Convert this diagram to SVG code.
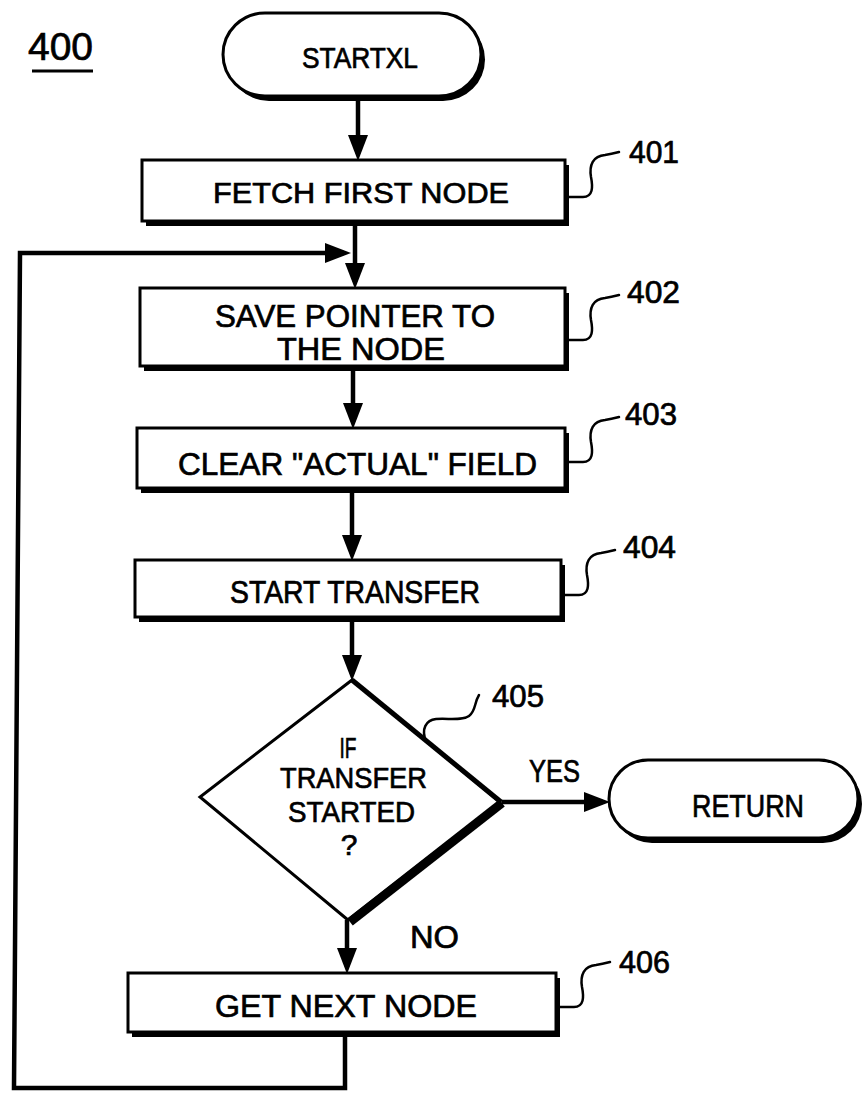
<svg xmlns="http://www.w3.org/2000/svg" width="865" height="1095" viewBox="0 0 865 1095">
<style>
text{font-family:"Liberation Sans",Arial,sans-serif;fill:#000;stroke:#000;stroke-width:0.7}
.c{text-anchor:middle}
.box{fill:#fff;stroke:#000;stroke-width:3}
.sh{fill:#000}
.con{fill:none;stroke:#000;stroke-width:4.5;stroke-linejoin:miter}
.arr{marker-end:url(#ah)}
.lead{fill:none;stroke:#000;stroke-width:2.5;stroke-linecap:round}
</style>
<defs>
<marker id="ah" markerUnits="userSpaceOnUse" markerWidth="26" markerHeight="20" refX="19" refY="10" orient="auto">
<path d="M0,0 L26,10 L0,20 Z" fill="#000"/>
</marker>
<path id="leader" d="M0,0 L14,0 C24,0 24,-10 22,-20 C20,-32 24,-41 36,-42 C42,-43 46,-44 50,-45"/>
</defs>
<rect width="865" height="1095" fill="#fff"/>

<g id="fig-label">
<text x="28" y="60" font-size="39" textLength="65" lengthAdjust="spacingAndGlyphs">400</text>
<line x1="32" y1="71" x2="93" y2="71" stroke="#000" stroke-width="3"/>
</g>

<g id="connectors">
<path class="con arr" d="M358,101 L358,154"/>
<path class="con arr" d="M355,226 L355,282"/>
<path class="con arr" d="M345,1037 L345,1088 L14,1088 L20,253 L344,253"/>
<path class="con arr" d="M353,371 L353,422"/>
<path class="con arr" d="M352,493 L352,554"/>
<path class="con arr" d="M352,622 L352,674"/>
<path class="con arr" d="M347,920 L347,967"/>
<path class="con arr" d="M502,802 L603,802"/>
<text x="554.5" y="782" class="c" font-size="32" textLength="51" lengthAdjust="spacingAndGlyphs">YES</text>
<text x="434.5" y="948" class="c" font-size="31" textLength="49" lengthAdjust="spacingAndGlyphs">NO</text>
</g>

<g id="startxl">
<rect class="sh" x="227" y="18" width="258" height="83" rx="42"/>
<rect class="box" x="223" y="13" width="258" height="83" rx="42"/>
<text x="360" y="68" class="c" font-size="29" textLength="116" lengthAdjust="spacingAndGlyphs">STARTXL</text>
</g>

<g id="n401">
<rect class="sh" x="146" y="165" width="423" height="61"/>
<rect class="box" x="142" y="160" width="423" height="61"/>
<text x="361" y="203" class="c" font-size="29" textLength="296" lengthAdjust="spacingAndGlyphs">FETCH FIRST NODE</text>
<use href="#leader" x="569" y="197" class="lead"/>
<text x="629" y="163" font-size="31" textLength="50" lengthAdjust="spacingAndGlyphs">401</text>
</g>

<g id="n402">
<rect class="sh" x="144" y="293" width="425" height="78"/>
<rect class="box" x="140" y="288" width="425" height="78"/>
<text x="355" y="327" class="c" font-size="32" textLength="280" lengthAdjust="spacingAndGlyphs">SAVE POINTER TO</text>
<text x="361" y="360" class="c" font-size="32" textLength="168" lengthAdjust="spacingAndGlyphs">THE NODE</text>
<use href="#leader" x="569" y="340" class="lead"/>
<text x="627" y="303" font-size="31" textLength="53" lengthAdjust="spacingAndGlyphs">402</text>
</g>

<g id="n403">
<rect class="sh" x="141" y="433" width="428" height="60"/>
<rect class="box" x="137" y="428" width="428" height="60"/>
<text x="357.5" y="475" class="c" font-size="32" textLength="359" lengthAdjust="spacingAndGlyphs">CLEAR "ACTUAL" FIELD</text>
<use href="#leader" x="569" y="462" class="lead"/>
<text x="625" y="425" font-size="31" textLength="52" lengthAdjust="spacingAndGlyphs">403</text>
</g>

<g id="n404">
<rect class="sh" x="139" y="565" width="426" height="57"/>
<rect class="box" x="135" y="560" width="426" height="57"/>
<text x="355" y="603" class="c" font-size="31" textLength="250" lengthAdjust="spacingAndGlyphs">START TRANSFER</text>
<use href="#leader" x="565" y="595" class="lead"/>
<text x="623" y="558" font-size="31" textLength="53" lengthAdjust="spacingAndGlyphs">404</text>
</g>

<g id="n405">
<polygon points="352,680 500,802 348,920 200,797" fill="#fff" stroke="#000" stroke-width="3" stroke-linejoin="miter"/>
<path d="M352,680 L501,802" stroke="#000" stroke-width="5" fill="none"/>
<path d="M502,803 L350,922" stroke="#000" stroke-width="9" fill="none"/>
<text x="348" y="758" class="c" font-size="30" textLength="17" lengthAdjust="spacingAndGlyphs">IF</text>
<text x="353.5" y="788" class="c" font-size="30" textLength="147" lengthAdjust="spacingAndGlyphs">TRANSFER</text>
<text x="351.5" y="822" class="c" font-size="30" textLength="127" lengthAdjust="spacingAndGlyphs">STARTED</text>
<text x="349" y="855" class="c" font-size="30">?</text>
<path class="lead" d="M426,741 C421,729 426,720 436,719 C448,718 462,721 469,716 C476,711 474,703 479,695"/>
<text x="492" y="707" font-size="31" textLength="52" lengthAdjust="spacingAndGlyphs">405</text>
</g>

<g id="return">
<rect class="sh" x="613" y="765" width="249" height="78" rx="39"/>
<rect class="box" x="609" y="760" width="249" height="78" rx="39"/>
<text x="748" y="817" class="c" font-size="32" textLength="112" lengthAdjust="spacingAndGlyphs">RETURN</text>
</g>

<g id="n406">
<rect class="sh" x="132" y="978" width="428" height="59"/>
<rect class="box" x="128" y="973" width="428" height="59"/>
<text x="346" y="1017" class="c" font-size="32" textLength="262" lengthAdjust="spacingAndGlyphs">GET NEXT NODE</text>
<use href="#leader" x="560" y="1007" class="lead"/>
<text x="619" y="973" font-size="31" textLength="51" lengthAdjust="spacingAndGlyphs">406</text>
</g>
</svg>
